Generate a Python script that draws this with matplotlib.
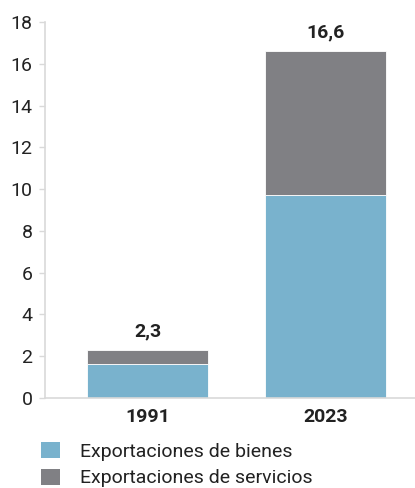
import matplotlib.pyplot as plt
from matplotlib.patches import Patch

years = ['1991', '2023']
bienes = [1.63, 9.72]
servicios = [0.67, 6.88]
totales = ['2,3', '16,6']
yticks = [0, 2, 4, 6, 8, 10, 12, 14, 16, 18]

color_bienes = '#79b2cd'
color_servicios = '#808084'
txt = '#222222'

plt.rcParams['font.family'] = ['Roboto', 'DejaVu Sans']

W, H = 415, 488
fig = plt.figure(figsize=(W / 100, H / 100), dpi=100)
ax = fig.add_axes([45 / W, 1 - 398 / H, 370 / W, 376 / H])

x = [0, 1]
ax.bar(x, bienes, width=0.68, color=color_bienes, edgecolor='white', linewidth=0.6)
ax.bar(x, servicios, width=0.68, bottom=bienes, color=color_servicios, edgecolor='white', linewidth=0.6)

for xi, b, s, t in zip(x, bienes, servicios, totales):
    ax.text(xi, b + s + 0.45, t, ha='center', va='bottom', fontsize=14,
            fontweight='bold', color=txt)

ax.set_xlim(-0.576, 1.503)
ax.set_ylim(0, 18)
ax.set_yticks(yticks)
ax.set_xticks(x)
ax.set_xticklabels(years, fontweight='bold')

for side in ['top', 'right']:
    ax.spines[side].set_visible(False)
for side in ['left', 'bottom']:
    ax.spines[side].set_color('#d9d9d9')
    ax.spines[side].set_linewidth(1.2)

ax.tick_params(axis='y', length=4, width=1, color='#d9d9d9', pad=5,
               labelsize=14, labelcolor=txt)
ax.tick_params(axis='x', length=0, pad=7, labelsize=14, labelcolor=txt)

handles = [Patch(facecolor=color_bienes, label='Exportaciones de bienes'),
           Patch(facecolor=color_servicios, label='Exportaciones de servicios')]
fig.legend(handles=handles, loc='upper left', bbox_to_anchor=(41 / W, 1 - 442 / H),
           frameon=False, fontsize=14, handlelength=1.0, handleheight=0.9,
           handletextpad=1.0, labelspacing=0.4, borderpad=0, borderaxespad=0,
           labelcolor=txt)

fig.savefig('out.png', dpi=100)
